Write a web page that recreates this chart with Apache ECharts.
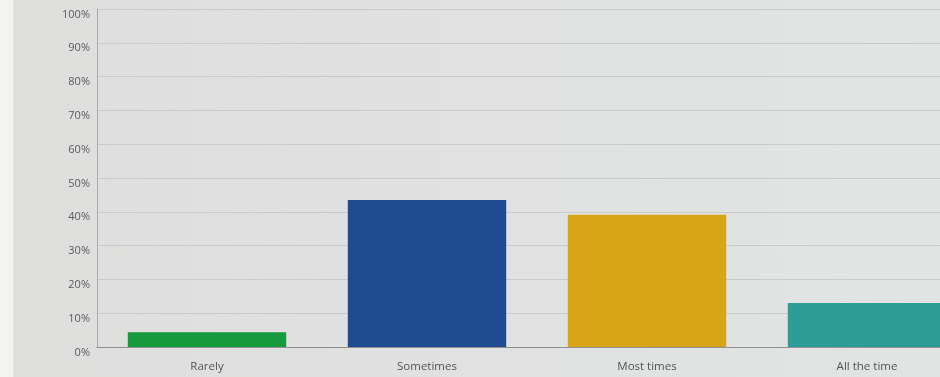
<!DOCTYPE html>
<html>
<head>
<meta charset="utf-8">
<script src="https://cdn.jsdelivr.net/npm/echarts@6/dist/echarts.min.js"></script>
<style>
  html, body { margin: 0; padding: 0; }
  body {
    width: 940px; height: 377px; overflow: hidden;
    background: linear-gradient(to right, #f3f3f1 0px, #f3f3f1 13px, #dedfdd 14px, #e2e4e4 100%);
  }
  /* the chart is wider than the page, so the last column runs off the right edge */
  #chart { width: 1000px; height: 377px; }
</style>
</head>
<body>
<div id="chart"></div>
<script>
// Answer categories and share of respondents (percent)
const categories = ['Rarely', 'Sometimes', 'Most times', 'All the time'];
const shares = [4.35, 43.48, 39.13, 13.04];
const barColors = ['#159a3d', '#1f4b90', '#d8a418', '#2b9d95'];
const tickValues = [0, 10, 20, 30, 40, 50, 60, 70, 80, 90, 100];

const chart = echarts.init(document.getElementById('chart'), null, { renderer: 'canvas' });

chart.setOption({
  backgroundColor: 'transparent',
  animation: false,
  grid: { left: 97, right: 23, top: 9, bottom: 30, containLabel: false },
  xAxis: {
    type: 'category',
    data: categories,
    axisTick: { show: false },
    axisLine: { show: true, lineStyle: { color: '#8e9091', width: 1 } },
    axisLabel: {
      color: '#515456',
      fontFamily: '"Open Sans", sans-serif',
      fontSize: 11.5,
      margin: 14
    }
  },
  yAxis: {
    type: 'value',
    min: tickValues[0],
    max: tickValues[tickValues.length - 1],
    interval: 10,
    axisLine: { show: true, lineStyle: { color: '#a9abac', width: 1 } },
    axisTick: { show: false },
    splitLine: { show: true, lineStyle: { color: '#c9cbcc', width: 1 } },
    axisLabel: {
      color: '#585b5d',
      fontFamily: '"Open Sans", sans-serif',
      fontSize: 11,
      margin: 7,
      verticalAlign: 'top',
      formatter: v => v + '%'
    }
  },
  series: [{
    type: 'bar',
    barWidth: '72%',
    data: shares.map((v, i) => ({ value: v, itemStyle: { color: barColors[i] } }))
  }]
});
</script>
</body>
</html>
